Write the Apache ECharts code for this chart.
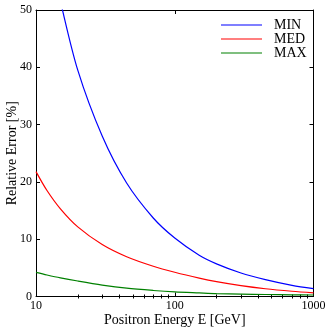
<!DOCTYPE html>
<html>
<head>
<meta charset="utf-8">
<script src="https://cdn.jsdelivr.net/npm/echarts@6/dist/echarts.min.js"></script>
<style>
  html, body { margin: 0; padding: 0; background: #fff; }
  #chart { width: 332px; height: 332px; }
</style>
</head>
<body>
<div id="chart"></div>
<script>
// values
var minEnergy = [14, 15, 20, 30, 45, 70, 100, 150, 200, 300, 450, 700, 1000];
var minError  = [55.0, 51.5, 39.5, 28, 19.8, 13.7, 10.2, 7.2, 5.7, 4.1, 2.95, 1.95, 1.38];
var energy    = [10, 12, 15, 20, 30, 45, 70, 100, 150, 200, 300, 450, 700, 1000];
var medError  = [21.8, 18.5, 15.3, 12.15, 9.07, 6.94, 5.28, 4.23, 3.21, 2.59, 1.89, 1.35, 0.915, 0.64];
var maxError  = [4.2, 3.75, 3.25, 2.7, 2.0, 1.45, 1.05, 0.8, 0.62, 0.5, 0.42, 0.35, 0.3, 0.26];
var seriesNames = ['MIN', 'MED', 'MAX'];
// minor log ticks (2..9 per decade), in log10 units for the helper axis
var minorTicks = [];
[10, 100].forEach(function (d) {
    for (var k = 2; k <= 9; k++) minorTicks.push(Math.log10(k * d));
});

function pairs(xs, ys) {
    return xs.map(function (x, i) { return [x, ys[i]]; });
}

var font = 'Liberation Serif';
var chart = echarts.init(document.getElementById('chart'));

var majorX = function (pos, showLabel) {
    return {
        type: 'log', logBase: 10, min: 10, max: 1000, position: pos,
        name: showLabel ? 'Positron Energy E [GeV]' : '',
        nameLocation: 'middle', nameGap: 17, nameMoveOverlap: false,
        nameTextStyle: { fontFamily: font, fontSize: 14, color: '#000' },
        axisLine: { show: true, onZero: false, lineStyle: { color: '#000', width: 1 } },
        axisTick: { show: true, inside: true, length: 4, lineStyle: { color: '#000' } },
        axisLabel: {
            show: showLabel, margin: 3, fontFamily: font, fontSize: 12, color: '#000',
            formatter: function (v) { return String(Math.round(v)); }
        },
        splitLine: { show: false }
    };
};
var minorX = function (pos) {
    return {
        type: 'value', min: 1, max: 3, position: pos,
        axisLine: { show: false },
        axisTick: { show: true, inside: true, length: 2, customValues: minorTicks, lineStyle: { color: '#000' } },
        axisLabel: { show: false },
        splitLine: { show: false }
    };
};
var yAx = function (pos, showLabel) {
    return {
        type: 'value', min: 0, max: 50, interval: 10, position: pos,
        name: showLabel ? 'Relative Error [%]' : '',
        nameLocation: 'middle', nameGap: 17, nameRotate: 90, nameMoveOverlap: false,
        nameTextStyle: { fontFamily: font, fontSize: 14, color: '#000' },
        axisLine: { show: true, onZero: false, lineStyle: { color: '#000', width: 1 } },
        axisTick: { show: true, inside: true, length: 4, lineStyle: { color: '#000' } },
        axisLabel: { show: showLabel, margin: 4, fontFamily: font, fontSize: 12, color: '#000' },
        splitLine: { show: false }
    };
};

var colors = ['#0000ff', '#ff0000', '#008000'];
var datas = [pairs(minEnergy, minError), pairs(energy, medError), pairs(energy, maxError)];

var option = {
    animation: false,
    grid: { left: 36, right: 18.5, top: 10, bottom: 35.5, containLabel: false, outerBoundsMode: 'none' },
    legend: {
        orient: 'vertical', left: 221, top: 18, padding: 0,
        icon: 'rect', itemWidth: 41, itemHeight: 1.2, itemGap: 0,
        data: seriesNames,
        textStyle: { fontFamily: font, fontSize: 14, lineHeight: 14, color: '#000', padding: [0, 0, 0, 7] }
    },
    xAxis: [majorX('bottom', true), majorX('top', false), minorX('bottom'), minorX('top')],
    yAxis: [yAx('left', true), yAx('right', false)],
    series: seriesNames.map(function (n, i) {
        return {
            name: n, type: 'line', xAxisIndex: 0, yAxisIndex: 0,
            data: datas[i], smooth: 0.3, symbol: 'none', clip: true,
            lineStyle: { color: colors[i], width: 1.2 },
            itemStyle: { color: colors[i] }
        };
    })
};
chart.setOption(option);
</script>
</body>
</html>
